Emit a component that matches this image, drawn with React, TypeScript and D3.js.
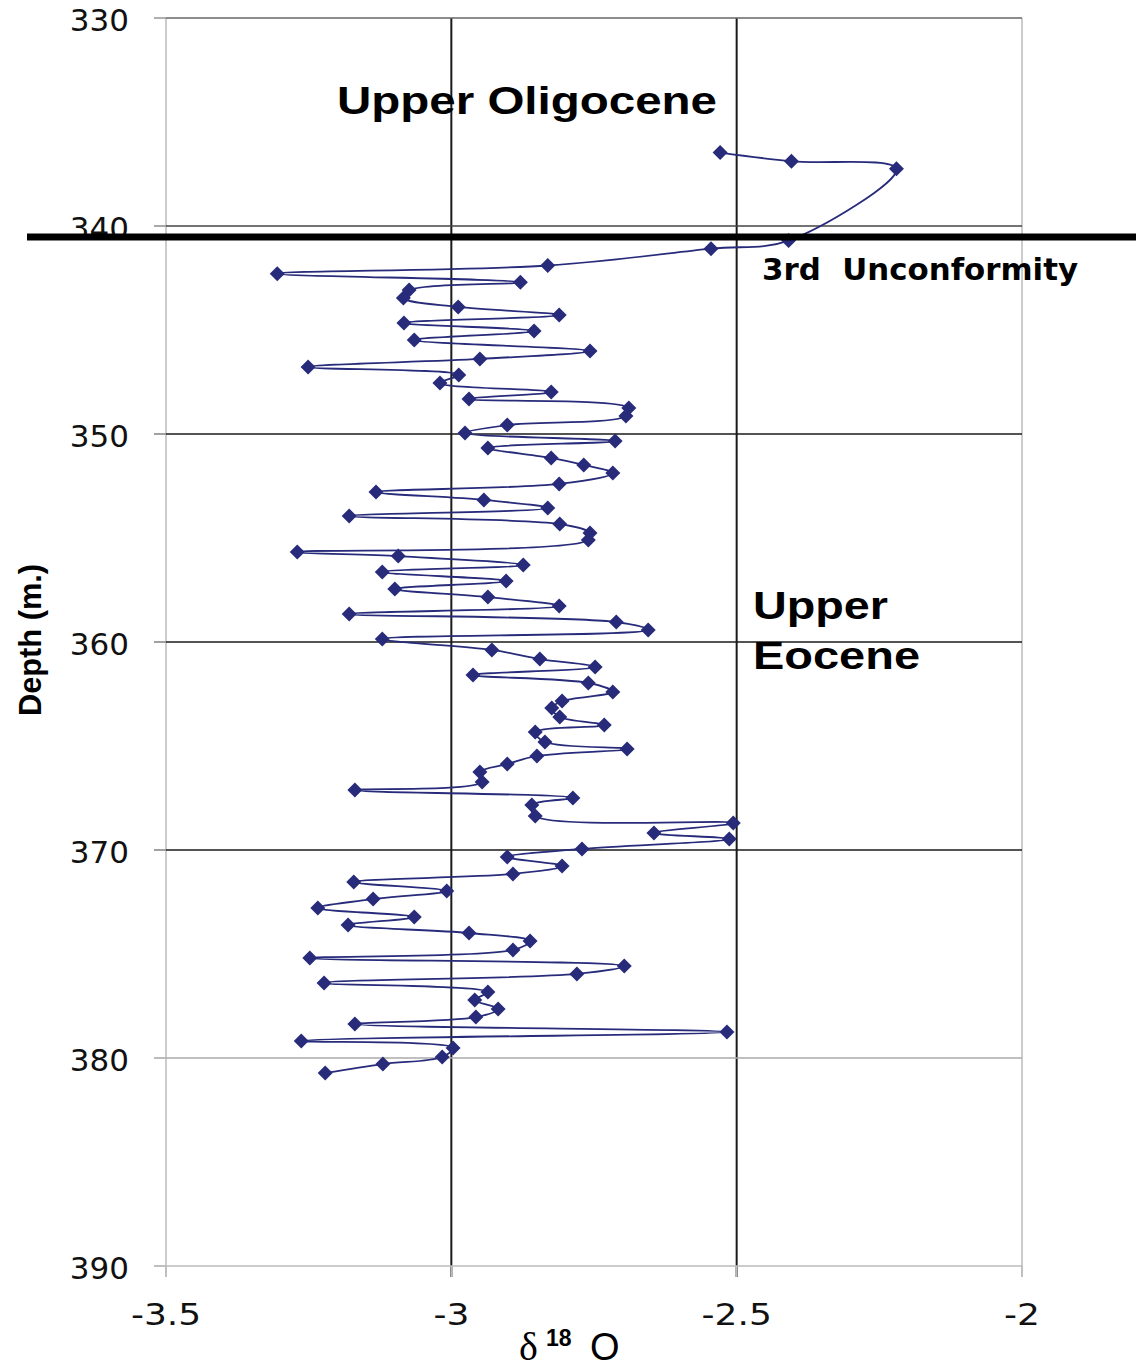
import React from "react";
import * as d3 from "d3";

// Depth (m) of each sample
const depths = [
  336.47, 336.89, 337.25, 340.7, 341.09, 341.9, 342.29, 342.71, 343.08, 343.46,
  343.89, 344.28, 344.66, 345.05, 345.48, 346.01, 346.39, 346.78, 347.16, 347.55,
  347.98, 348.32, 348.75, 349.13, 349.57, 349.95, 350.34, 350.67, 351.15, 351.49,
  351.88, 352.4, 352.79, 353.17, 353.56, 353.94, 354.33, 354.76, 355.1, 355.67,
  355.87, 356.3, 356.63, 357.07, 357.45, 357.84, 358.27, 358.65, 359.04, 359.42,
  359.86, 360.38, 360.82, 361.2, 361.59, 361.97, 362.4, 362.84, 363.17, 363.61,
  363.99, 364.33, 364.81, 365.14, 365.48, 365.87, 366.25, 366.73, 367.12, 367.5,
  367.84, 368.37, 368.7, 369.18, 369.47, 369.95, 370.34, 370.77, 371.15, 371.54,
  371.97, 372.36, 372.79, 373.22, 373.61, 373.99, 374.38, 374.81, 375.19, 375.58,
  375.96, 376.39, 376.83, 377.21, 377.64, 378.03, 378.37, 378.75, 379.18, 379.52,
  379.95, 380.29, 380.72,
];

// delta 18 O values
const d18O = [
  -2.529, -2.404, -2.22, -2.409, -2.545, -2.831, -3.305, -2.879, -3.074, -3.084,
  -2.988, -2.811, -3.083, -2.855, -3.065, -2.757, -2.95, -3.251, -2.987, -3.02,
  -2.825, -2.969, -2.689, -2.694, -2.902, -2.976, -2.713, -2.936, -2.825, -2.768,
  -2.717, -2.811, -3.132, -2.943, -2.831, -3.179, -2.81, -2.757, -2.76, -3.27,
  -3.093, -2.874, -3.121, -2.904, -3.099, -2.936, -2.811, -3.179, -2.711, -2.655,
  -3.121, -2.929, -2.845, -2.748, -2.962, -2.76, -2.717, -2.806, -2.824, -2.81,
  -2.732, -2.853, -2.836, -2.692, -2.85, -2.902, -2.95, -2.946, -3.169, -2.787,
  -2.859, -2.853, -2.506, -2.645, -2.513, -2.771, -2.902, -2.806, -2.892, -3.171,
  -3.008, -3.137, -3.234, -3.065, -3.181, -2.969, -2.862, -2.892, -3.248, -2.697,
  -2.78, -3.223, -2.936, -2.959, -2.918, -2.957, -3.169, -2.517, -3.263, -2.997,
  -3.016, -3.12, -3.221,
];

const yTicks = [330, 340, 350, 360, 370, 380, 390];
const xTicks = [-3.5, -3, -2.5, -2];
const xTickLabels = ["-3.5", "-3", "-2.5", "-2"];
const unconformityDepth = 340.53;

const hGridColor: Record<number, string> = {
  330: "#666",
  340: "#444",
  350: "#1a1a1a",
  360: "#1a1a1a",
  370: "#1a1a1a",
  380: "#aaa",
  390: "#bbb",
};
const vGridColor: Record<string, string> = {
  "-3.5": "#bbb",
  "-3": "#1a1a1a",
  "-2.5": "#1a1a1a",
  "-2": "#bbb",
};

export default function App() {
  const W = 1136;
  const H = 1370;
  const x = d3.scaleLinear().domain([-3.5, -2]).range([166, 1022]);
  const y = d3.scaleLinear().domain([330, 390]).range([18, 1266]);
  const pts: [number, number][] = depths.map((d, i) => [x(d18O[i]), y(d)]);
  const linePath = d3.line().curve(d3.curveCatmullRom.alpha(0.5))(pts) || "";
  const navy = "#272b7a";
  const diamond = "M0,-7.5L7.5,0L0,7.5L-7.5,0Z";
  const [x0, x1] = x.range();
  const [y0, y1] = y.range();

  return (
    <div style={{ position: "absolute", left: 0, top: 0 }}>
      <svg width={W} height={H} style={{ display: "block", background: "#fff" }}>
        {xTicks.map((t) => (
          <line
            key={"v" + t}
            x1={x(t)}
            x2={x(t)}
            y1={y0}
            y2={y1 + 11}
            stroke={vGridColor[String(t)]}
            strokeWidth={t === -3 || t === -2.5 ? 2 : 1.5}
          />
        ))}
        {yTicks.map((t) => (
          <line
            key={"h" + t}
            x1={x0 - 12}
            x2={x1}
            y1={y(t)}
            y2={y(t)}
            stroke={hGridColor[t]}
            strokeWidth={1.5}
          />
        ))}
        {yTicks.map((t) => (
          <line key={"ts" + t} x1={x0 - 12} x2={x0} y1={y(t)} y2={y(t)} stroke="#bbb" strokeWidth={1.5} />
        ))}
        {xTicks.map((t) => (
          <line key={"xs" + t} x1={x(t)} x2={x(t)} y1={y1} y2={y1 + 11} stroke="#bbb" strokeWidth={1.5} />
        ))}

        {yTicks.map((t) => (
          <text
            key={"yl" + t}
            x={129}
            y={y(t) + 13}
            textAnchor="end"
            fontFamily="DejaVu Sans"
            fontSize={31}
            fill="#111"
          >
            {t}
          </text>
        ))}
        {xTicks.map((t, i) => (
          <text
            key={"xl" + t}
            transform={`translate(${x(t)},${1325}) scale(1.2,1)`}
            textAnchor="middle"
            fontFamily="DejaVu Sans"
            fontSize={30}
            fill="#111"
          >
            {xTickLabels[i]}
          </text>
        ))}

        <path d={linePath} fill="none" stroke={navy} strokeWidth={1.8} />
        {pts.map((p, i) => (
          <path key={"m" + i} d={diamond} transform={`translate(${p[0]},${p[1]})`} fill={navy} />
        ))}

        <line x1={27} x2={W} y1={y(unconformityDepth)} y2={y(unconformityDepth)} stroke="#000" strokeWidth={7} />

        <text
          x={337}
          y={114}
          fontFamily="Liberation Sans"
          fontWeight="bold"
          fontSize={38}
          textLength={380}
          lengthAdjust="spacingAndGlyphs"
          fill="#000"
        >
          Upper Oligocene
        </text>
        <text
          x={762}
          y={280}
          fontFamily="DejaVu Sans"
          fontWeight="bold"
          fontSize={31}
          textLength={316}
          lengthAdjust="spacingAndGlyphs"
          fill="#000"
          style={{ whiteSpace: "pre" }}
        >
          {"3rd  Unconformity"}
        </text>
        <text
          x={753}
          y={619}
          fontFamily="Liberation Sans"
          fontWeight="bold"
          fontSize={38}
          textLength={135}
          lengthAdjust="spacingAndGlyphs"
          fill="#000"
        >
          Upper
        </text>
        <text
          x={753}
          y={669}
          fontFamily="Liberation Sans"
          fontWeight="bold"
          fontSize={38}
          textLength={167}
          lengthAdjust="spacingAndGlyphs"
          fill="#000"
        >
          Eocene
        </text>

        <text
          transform="translate(41,640) rotate(-90)"
          textAnchor="middle"
          fontFamily="Liberation Sans"
          fontWeight="bold"
          fontSize={32}
          textLength={152}
          lengthAdjust="spacingAndGlyphs"
          fill="#000"
        >
          Depth (m.)
        </text>
        <text x={519} y={1360} fontFamily="Liberation Serif" fontSize={40} fill="#000">
          δ
        </text>
        <text x={546} y={1346} fontFamily="Liberation Sans" fontWeight="bold" fontSize={23} fill="#000">
          18
        </text>
        <text x={590} y={1360} fontFamily="Liberation Sans" fontSize={38} fill="#000">
          O
        </text>
      </svg>
    </div>
  );
}
